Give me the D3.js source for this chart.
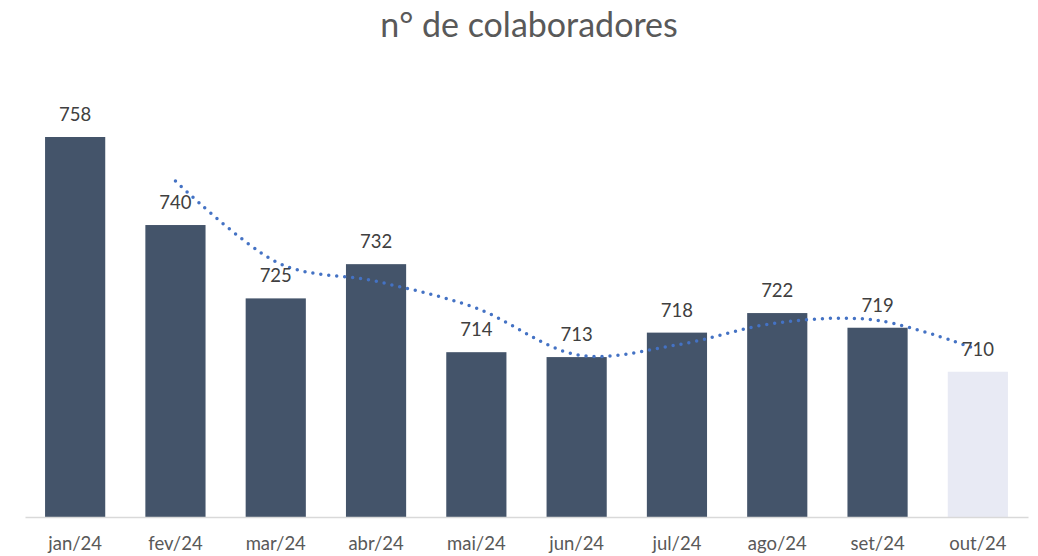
<!DOCTYPE html>
<html>
<head>
<meta charset="utf-8">
<script src="https://cdn.jsdelivr.net/npm/d3@7"></script>
<style>
  html, body { margin: 0; padding: 0; background: #fff; }
  svg { display: block; font-family: Lato, 'Open Sans', sans-serif; }
</style>
</head>
<body>
<div id="chart"></div>
<script>
const months = ['jan/24', 'fev/24', 'mar/24', 'abr/24', 'mai/24', 'jun/24', 'jul/24', 'ago/24', 'set/24', 'out/24'];
const headcount = [758, 740, 725, 732, 714, 713, 718, 722, 719, 710];
// moving-average trendline (starts at fev/24)
const trendMonths = ['fev/24', 'mar/24', 'abr/24', 'mai/24', 'jun/24', 'jul/24', 'ago/24', 'set/24', 'out/24'];
const trendValues = [749, 732.5, 728.5, 723, 713.5, 715.5, 720, 720.5, 714.5];
const lightMonths = ['out/24'];

const width = 1038;
const height = 556;
const margin = { top: 0, right: 10, bottom: 39, left: 25 };

const svg = d3
  .select('#chart')
  .append('svg')
  .attr('width', width)
  .attr('height', height);

const x = d3
  .scaleBand()
  .domain(months)
  .range([margin.left, width - margin.right])
  .paddingInner(0.4)
  .paddingOuter(0.2);

const baseline = height - margin.bottom;
const y = d3.scaleLinear().domain([680.3, 758]).range([baseline, 137]);

svg
  .append('text')
  .attr('x', width / 2 + 10)
  .attr('y', 37)
  .attr('text-anchor', 'middle')
  .attr('fill', '#595959')
  .style('font-size', '34px')
  .text('n° de colaboradores');

const data = months.map((m, i) => ({ month: m, value: headcount[i] }));

svg
  .selectAll('.bar')
  .data(data)
  .enter()
  .append('rect')
  .attr('class', 'bar')
  .attr('x', (d) => x(d.month))
  .attr('y', (d) => y(d.value))
  .attr('width', x.bandwidth())
  .attr('height', (d) => baseline - y(d.value))
  .attr('fill', (d) => (lightMonths.includes(d.month) ? '#E8EAF4' : '#44546A'));

// x axis
const xAxis = svg
  .append('g')
  .attr('transform', `translate(0,${baseline})`)
  .call(d3.axisBottom(x).tickSize(0).tickPadding(20));

xAxis.select('.domain').attr('stroke', '#D9D9D9').attr('stroke-width', 1.5);
xAxis
  .selectAll('text')
  .attr('fill', '#595959')
  .style('font-size', '18.5px')
  .style('font-family', "Lato, 'Open Sans', sans-serif");

// trendline
const trend = trendMonths.map((m, i) => ({ month: m, value: trendValues[i] }));
const line = d3
  .line()
  .x((d) => x(d.month) + x.bandwidth() / 2)
  .y((d) => y(d.value))
  .curve(d3.curveCatmullRom.alpha(0));

svg
  .append('path')
  .datum(trend)
  .attr('d', line)
  .attr('fill', 'none')
  .attr('stroke', '#4472C4')
  .attr('stroke-width', 3.5)
  .attr('stroke-linecap', 'round')
  .attr('stroke-dasharray', '0,8');

// value labels
svg
  .selectAll('.label')
  .data(data)
  .enter()
  .append('text')
  .attr('class', 'label')
  .attr('x', (d) => x(d.month) + x.bandwidth() / 2)
  .attr('y', (d) => y(d.value) - 16)
  .attr('text-anchor', 'middle')
  .attr('fill', '#404040')
  .style('font-size', '18.5px')
  .text((d) => d.value);
</script>
</body>
</html>
